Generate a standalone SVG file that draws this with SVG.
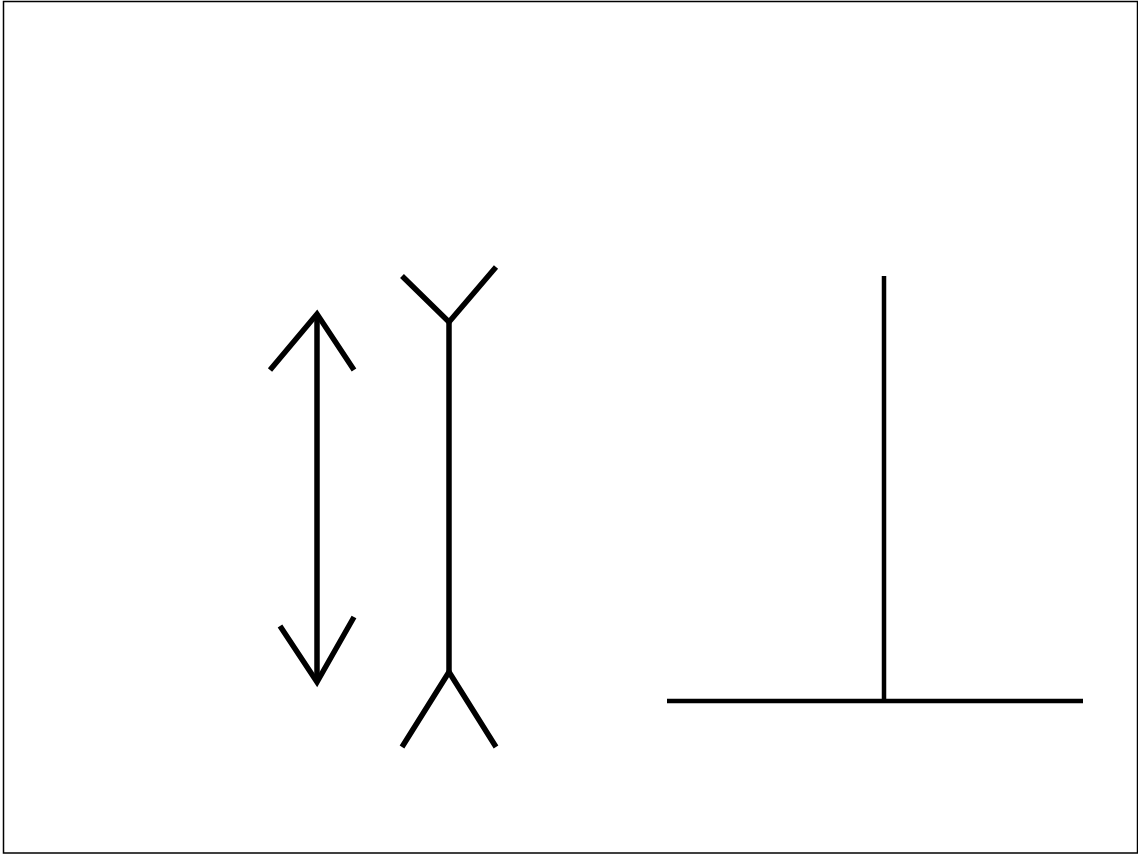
<svg xmlns="http://www.w3.org/2000/svg" width="1138" height="855" viewBox="0 0 1138 855">
<style>
.s{fill:none;stroke:#000;stroke-width:5.5}
.t{fill:none;stroke:#000;stroke-width:4.5}
</style>
<rect x="0" y="0" width="1138" height="855" fill="#fff"/>
<rect x="3.5" y="1.5" width="1134" height="851.5" fill="none" stroke="#000" stroke-width="1.5"/>
<g id="arrow-left">
<line class="s" x1="317" y1="314" x2="317" y2="682"/>
<polyline class="s" points="270,370 317,314 354,370"/>
<polyline class="s" points="280,626 317,682 354,617"/>
</g>
<g id="arrow-middle">
<line class="s" x1="449" y1="322" x2="449" y2="672"/>
<polyline class="s" points="402,276 449,322 496,267"/>
<polyline class="s" points="402,747 449,672 496,747"/>
</g>
<g id="t-figure">
<line class="t" x1="884" y1="276" x2="884" y2="701"/>
<line class="t" x1="667" y1="701" x2="1083" y2="701"/>
</g>
</svg>
